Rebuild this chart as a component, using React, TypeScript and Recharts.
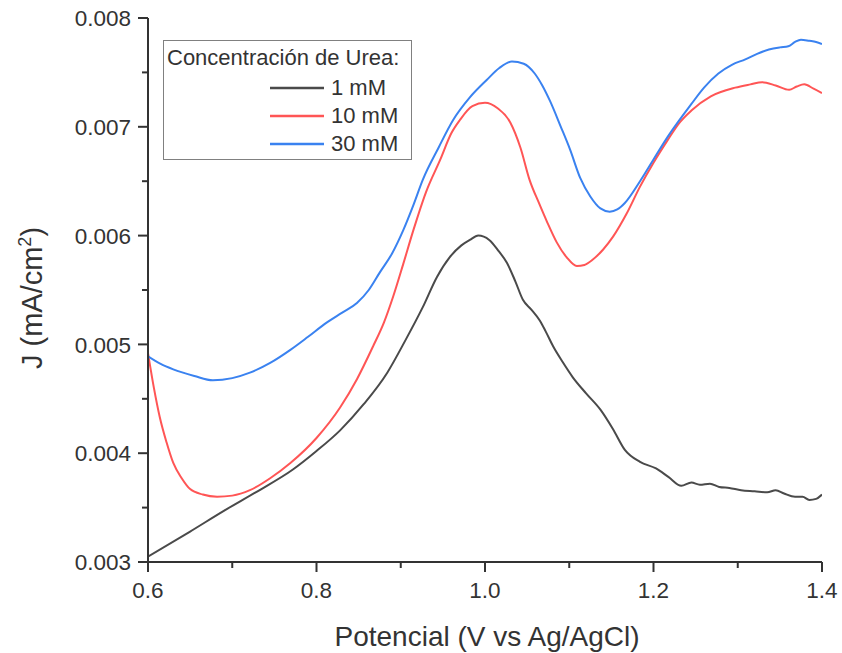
import React from 'react';
import { LineChart, Line, XAxis, YAxis, Legend, Label } from 'recharts';

const FONT = '"Liberation Sans", Arial, Helvetica, sans-serif';
const AXIS = '#333';
const TEXT = '#333';

// potential (V vs Ag/AgCl) and current density (mA/cm2)
const potential1 = [0.6, 0.65, 0.69, 0.73, 0.772, 0.8, 0.828, 0.856, 0.884, 0.905, 0.926, 0.943, 0.958, 0.972, 0.982, 0.992, 1.005, 1.016, 1.026, 1.036, 1.045, 1.055, 1.065, 1.072, 1.081, 1.092, 1.104, 1.12, 1.137, 1.152, 1.166, 1.184, 1.203, 1.218, 1.233, 1.245, 1.255, 1.267, 1.278, 1.29, 1.304, 1.32, 1.335, 1.345, 1.355, 1.368, 1.377, 1.385, 1.393, 1.4];
const current1 = [0.00305, 0.00328, 0.00347, 0.00365, 0.00385, 0.00402, 0.00421, 0.00445, 0.00474, 0.00503, 0.00534, 0.00562, 0.0058, 0.00591, 0.00596, 0.006, 0.00596, 0.00586, 0.00575, 0.00558, 0.00541, 0.00532, 0.00522, 0.00512, 0.00498, 0.00484, 0.0047, 0.00455, 0.0044, 0.00422, 0.00403, 0.00392, 0.00386, 0.00378, 0.0037, 0.00373, 0.00371, 0.00372, 0.00369, 0.00368, 0.00366, 0.00365, 0.00364, 0.00366, 0.00363, 0.0036, 0.0036, 0.00357, 0.00358, 0.00362];

const potential10 = [0.6, 0.607, 0.614, 0.622, 0.63, 0.64, 0.65, 0.665, 0.682, 0.7, 0.721, 0.745, 0.769, 0.8, 0.828, 0.848, 0.867, 0.88, 0.891, 0.903, 0.915, 0.93, 0.947, 0.96, 0.97, 0.985, 1.0, 1.015, 1.03, 1.042, 1.053, 1.064, 1.074, 1.085, 1.097, 1.109, 1.118, 1.128, 1.14, 1.152, 1.168, 1.184, 1.2, 1.217, 1.23, 1.245, 1.268, 1.297, 1.315, 1.329, 1.345, 1.361, 1.37, 1.379, 1.39, 1.4];
const current10 = [0.00492, 0.0046, 0.00433, 0.0041, 0.00391, 0.00377, 0.00367, 0.00362, 0.0036, 0.00361, 0.00366, 0.00377, 0.00391, 0.00414, 0.00442, 0.00468, 0.00498, 0.0052, 0.00544, 0.00574, 0.00605, 0.0064, 0.0067, 0.00694, 0.00706, 0.00719, 0.00722, 0.00717, 0.00704, 0.00681, 0.00651, 0.0063, 0.00612, 0.00594, 0.0058, 0.00572, 0.00573, 0.00578, 0.00587, 0.00599, 0.0062, 0.00645, 0.00667, 0.00688, 0.00703, 0.00715, 0.00728, 0.00736, 0.00739, 0.00741, 0.00738, 0.00734, 0.00737, 0.00739, 0.00735, 0.00731];

const potential30 = [0.6, 0.615, 0.63, 0.655, 0.677, 0.7, 0.721, 0.745, 0.769, 0.79, 0.812, 0.83, 0.848, 0.862, 0.875, 0.89, 0.903, 0.915, 0.926, 0.945, 0.962, 0.982, 1.002, 1.017, 1.032, 1.046, 1.059, 1.068, 1.077, 1.09, 1.101, 1.113, 1.125, 1.137, 1.148, 1.157, 1.166, 1.184, 1.2, 1.217, 1.245, 1.26, 1.277, 1.293, 1.309, 1.323, 1.337, 1.35, 1.36, 1.368, 1.375, 1.385, 1.393, 1.4];
const current30 = [0.00489, 0.00482, 0.00477, 0.00471, 0.00467, 0.00469, 0.00474, 0.00483, 0.00495, 0.00507, 0.0052, 0.00529, 0.00538, 0.0055, 0.00566, 0.00584, 0.00605, 0.00628, 0.00651, 0.00681, 0.00706, 0.00727, 0.00743, 0.00754, 0.0076, 0.00758, 0.00749, 0.00738, 0.00724, 0.007, 0.00679, 0.00653, 0.00636, 0.00625, 0.00622, 0.00624, 0.0063, 0.0065, 0.0067, 0.00691, 0.00721, 0.00736, 0.00749, 0.00757, 0.00762, 0.00767, 0.00771, 0.00773, 0.00774, 0.00778, 0.0078, 0.00779, 0.00778, 0.00776];

const seriesNames = ['1 mM', '10 mM', '30 mM'];
const seriesColors = ['#4a4a4a', '#ff5555', '#3a82f0'];

const xTicks = [0.6, 0.7, 0.8, 0.9, 1.0, 1.1, 1.2, 1.3, 1.4];
const xTicksTop = [0.6, 0.68, 0.76, 0.84, 0.92, 1.0, 1.08, 1.16, 1.24, 1.32, 1.4];
const yTicks = [0.003, 0.0035, 0.004, 0.0045, 0.005, 0.0055, 0.006, 0.0065, 0.007, 0.0075, 0.008];

const toRows = (vs: number[], js: number[]) => vs.map((v, i) => ({ v, j: js[i] }));
const series = [
  toRows(potential1, current1),
  toRows(potential10, current10),
  toRows(potential30, current30),
];

const isMajorY = (v: number) => Math.abs(v * 1000 - Math.round(v * 1000)) < 1e-6;
const isMajorX = (v: number) => Math.round(v * 10) % 2 === 0;

const LeftTick = ({ x, y, payload }: any) => {
  const major = isMajorY(payload.value);
  return (
    <g>
      <line x1={x} x2={x - (major ? 10 : 6)} y1={y} y2={y} stroke={AXIS} strokeWidth={2} />
      {major && (
        <text x={x - 17} y={y} dy="0.36em" textAnchor="end" fontSize={22.5} fill={TEXT} fontFamily={FONT}>
          {payload.value.toFixed(3)}
        </text>
      )}
    </g>
  );
};

const RightTick = ({ x, y, payload }: any) => {
  const major = isMajorY(payload.value);
  return <line x1={x} x2={x - (major ? 10 : 5)} y1={y} y2={y} stroke={AXIS} strokeWidth={2} />;
};

const BottomTick = ({ x, y, payload }: any) => {
  const major = isMajorX(payload.value);
  return (
    <g>
      <line x1={x} x2={x} y1={y} y2={y + (major ? 10 : 6)} stroke={AXIS} strokeWidth={2} />
      {major && (
        <text x={x} y={y + 36} textAnchor="middle" fontSize={22.5} fill={TEXT} fontFamily={FONT}>
          {payload.value.toFixed(1)}
        </text>
      )}
    </g>
  );
};

const TopTick = ({ x, y, index }: any) => (
  <line x1={x} x2={x} y1={y} y2={y + (index % 2 === 0 ? 11 : 6)} stroke={AXIS} strokeWidth={2} />
);

const XTitle = ({ viewBox }: any) => (
  <text x={viewBox.x + viewBox.width / 2 + 2} y={viewBox.y + 84} textAnchor="middle" fontSize={28} fill={TEXT} fontFamily={FONT}>
    Potencial (V vs Ag/AgCl)
  </text>
);

const YTitle = ({ viewBox }: any) => {
  const cx = 42;
  const cy = viewBox.y + viewBox.height / 2 + 8;
  return (
    <text x={cx} y={cy} transform={`rotate(-90, ${cx}, ${cy})`} textAnchor="middle" fontSize={29} fill={TEXT} fontFamily={FONT}>
      J (mA/cm<tspan dy={-11} fontSize={18}>2</tspan><tspan dy={11}>)</tspan>
    </text>
  );
};

const renderLegend = ({ payload }: any) => (
  <div style={{ position: 'relative', width: 249, height: 120, border: '1.5px solid #808080', boxSizing: 'border-box', background: '#fff', fontFamily: FONT, color: TEXT }}>
    <div style={{ position: 'absolute', left: 3, top: 4, fontSize: 22, whiteSpace: 'nowrap' }}>Concentración de Urea:</div>
    {(payload || []).map((p: any, i: number) => (
      <div key={p.value} style={{ position: 'absolute', left: 106, top: 34 + i * 28, height: 26, display: 'flex', alignItems: 'center', fontSize: 22 }}>
        <svg width={54} height={4} style={{ marginRight: 7 }}>
          <line x1={0} x2={54} y1={2} y2={2} stroke={p.color} strokeWidth={2.5} />
        </svg>
        <span>{p.value}</span>
      </div>
    ))}
  </div>
);

export default function App() {
  return (
    <div style={{ position: 'absolute', left: 0, top: 0, background: '#fff' }}>
      <LineChart width={842} height={653} margin={{ top: 18, right: 20, bottom: 0, left: 0 }}>
        <XAxis
          type="number"
          dataKey="v"
          domain={[0.6, 1.4]}
          ticks={xTicks}
          interval={0}
          allowDataOverflow
          height={91}
          tickSize={0}
          tickMargin={0}
          tickLine={false}
          axisLine={{ stroke: AXIS, strokeWidth: 2 }}
          tick={<BottomTick />}
        >
          <Label content={<XTitle />} />
        </XAxis>
        <XAxis
          xAxisId="top"
          orientation="top"
          type="number"
          dataKey="v"
          domain={[0.6, 1.4]}
          ticks={xTicksTop}
          interval={0}
          allowDataOverflow
          height={0}
          tickSize={0}
          tickMargin={0}
          tickLine={false}
          axisLine={{ stroke: AXIS, strokeWidth: 2 }}
          tick={<TopTick />}
        />
        <YAxis
          type="number"
          domain={[0.003, 0.008]}
          ticks={yTicks}
          interval={0}
          allowDataOverflow
          width={148}
          tickSize={0}
          tickMargin={0}
          tickLine={false}
          axisLine={{ stroke: AXIS, strokeWidth: 2 }}
          tick={<LeftTick />}
        >
          <Label content={<YTitle />} />
        </YAxis>
        <YAxis
          yAxisId="right"
          orientation="right"
          type="number"
          domain={[0.003, 0.008]}
          ticks={yTicks}
          interval={0}
          allowDataOverflow
          width={0}
          tickSize={0}
          tickMargin={0}
          tickLine={false}
          axisLine={{ stroke: AXIS, strokeWidth: 2 }}
          tick={<RightTick />}
        />
        {series.map((rows, i) => (
          <Line
            key={seriesNames[i]}
            data={rows}
            dataKey="j"
            name={seriesNames[i]}
            type="monotone"
            stroke={seriesColors[i]}
            strokeWidth={2}
            dot={false}
            activeDot={false}
            isAnimationActive={false}
          />
        ))}
        <Legend
          layout="vertical"
          align="center"
          verticalAlign="middle"
          content={renderLegend}
          wrapperStyle={{ left: 163, top: 40, width: 249, height: 120 }}
        />
      </LineChart>
    </div>
  );
}
